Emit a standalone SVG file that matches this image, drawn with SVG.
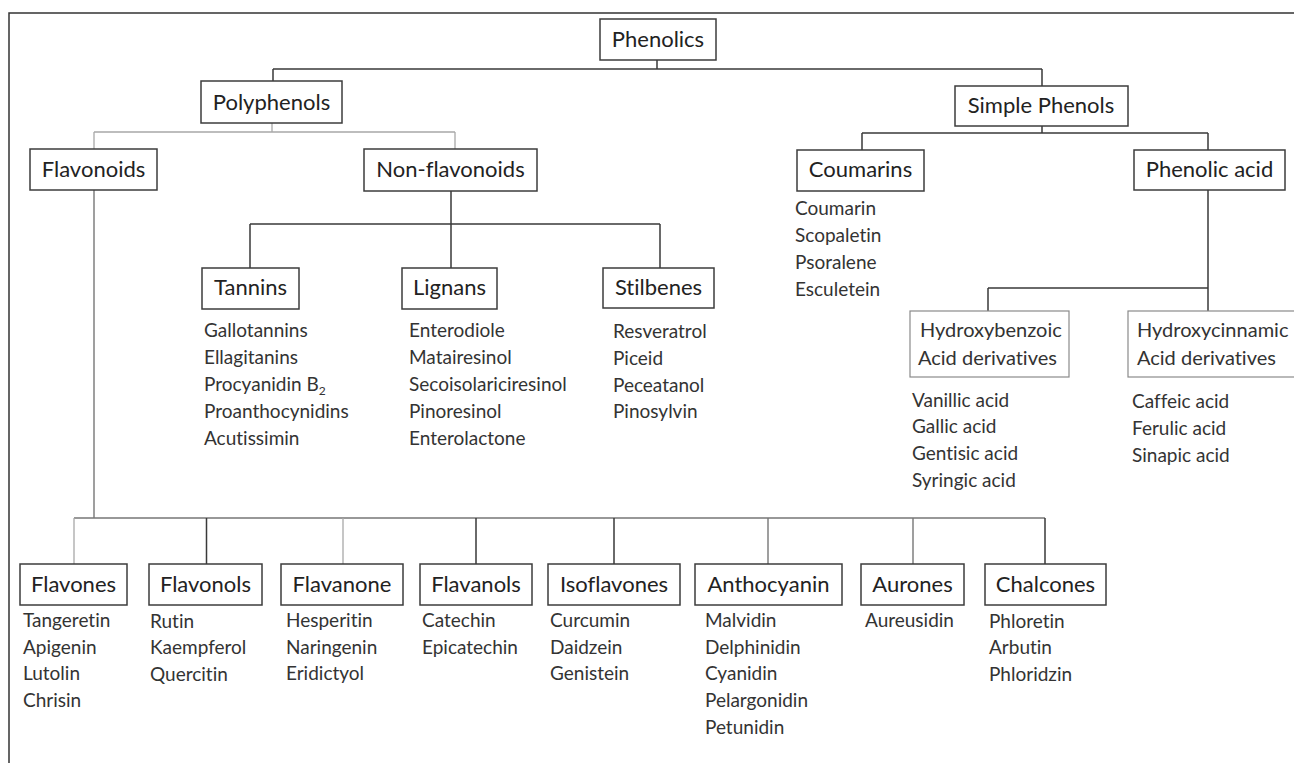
<svg xmlns="http://www.w3.org/2000/svg" width="1294" height="763" viewBox="0 0 1294 763">
<style>
.frame{fill:none;stroke:#333;stroke-width:1.5}
.box{fill:#fff;stroke:#3c3c3c;stroke-width:1.5}
.box2{fill:#fff;stroke:#8a8a8a;stroke-width:1.2}
text{font-variant-ligatures:none}
.lbl{font-family:Lato,"Open Sans",sans-serif;font-size:22px;fill:#222;text-anchor:middle}
.lbl2{font-family:Lato,"Open Sans",sans-serif;font-size:20px;fill:#333}
.item{font-family:Lato,"Open Sans",sans-serif;font-size:19px;fill:#333}
.dk{stroke:#3a3a3a;stroke-width:1.5;fill:none}
.md{stroke:#777;stroke-width:1.4;fill:none}
.lt{stroke:#a8a8a8;stroke-width:1.3;fill:none}
</style>
<rect width="1294" height="763" fill="#fff"/>
<path class="frame" d="M9,763 V13 H1294"/>
<g id="connectors">
<path class="dk" d="M657,60 V69 M273,69 H1042 M273,69 V81 M1042,69 V86"/>
<path class="lt" d="M272,123 V132 M94,132 H455 M94,132 V149 M455,132 V149"/>
<path class="dk" d="M1042,126 V133 M862,133 H1208 M862,133 V150 M1208,133 V150"/>
<path class="dk" d="M451,191 V268 M250,224 H660 M250,224 V268 M660,224 V268"/>
<path class="dk" d="M1208,190 V311 M988,288 H1208 M988,288 V311"/>
<path class="md" d="M94,190 V518 M74,518 H1045"/>
<path class="lt" d="M74,518 V564 M343,518 V564"/>
<path class="md" d="M768,518 V564 M913,518 V564"/>
<path class="dk" d="M206.5,518 V564 M476,518 V564 M614,518 V564 M1045,518 V564"/>
</g>
<g id="phenolics"><rect class="box" x="600" y="19" width="116" height="41"/><text class="lbl" x="658" y="47">Phenolics</text></g>
<g id="polyphenols"><rect class="box" x="201" y="81" width="141" height="42"/><text class="lbl" x="271.5" y="110">Polyphenols</text></g>
<g id="simple-phenols"><rect class="box" x="955" y="86" width="173" height="40"/><text class="lbl" x="1041" y="113">Simple Phenols</text></g>
<g id="flavonoids"><rect class="box" x="30" y="149" width="127" height="41"/><text class="lbl" x="93.5" y="177">Flavonoids</text></g>
<g id="non-flavonoids"><rect class="box" x="364" y="149" width="173" height="42"/><text class="lbl" x="450.5" y="177">Non-flavonoids</text></g>
<g id="coumarins"><rect class="box" x="797" y="150" width="127" height="41"/><text class="lbl" x="860.5" y="177">Coumarins</text>
<text class="item" x="795" y="215">Coumarin</text><text class="item" x="795" y="242">Scopaletin</text><text class="item" x="795" y="269">Psoralene</text><text class="item" x="795" y="296">Esculetein</text></g>
<g id="phenolic-acid"><rect class="box" x="1134" y="150" width="151" height="40"/><text class="lbl" x="1209.5" y="177">Phenolic acid</text></g>
<g id="tannins"><rect class="box" x="202" y="268" width="97" height="41"/><text class="lbl" x="250.5" y="295">Tannins</text>
<text class="item" x="204" y="337">Gallotannins</text><text class="item" x="204" y="364">Ellagitanins</text><text class="item" x="204" y="391">Procyanidin B<tspan font-size="12" dy="4">2</tspan></text><text class="item" x="204" y="418">Proanthocynidins</text><text class="item" x="204" y="445">Acutissimin</text></g>
<g id="lignans"><rect class="box" x="402" y="268" width="95" height="41"/><text class="lbl" x="449.5" y="295">Lignans</text>
<text class="item" x="409" y="337">Enterodiole</text><text class="item" x="409" y="364">Matairesinol</text><text class="item" x="409" y="391">Secoisolariciresinol</text><text class="item" x="409" y="418">Pinoresinol</text><text class="item" x="409" y="445">Enterolactone</text></g>
<g id="stilbenes"><rect class="box" x="603" y="268" width="111" height="40"/><text class="lbl" x="658.5" y="295">Stilbenes</text>
<text class="item" x="613" y="338">Resveratrol</text><text class="item" x="613" y="365">Piceid</text><text class="item" x="613" y="392">Peceatanol</text><text class="item" x="613" y="418">Pinosylvin</text></g>
<g id="hydroxybenzoic"><rect class="box2" x="910" y="311" width="159" height="66"/><text class="lbl2" x="920" y="337">Hydroxybenzoic</text><text class="lbl2" x="918" y="365">Acid derivatives</text>
<text class="item" x="912" y="407">Vanillic acid</text><text class="item" x="912" y="433">Gallic acid</text><text class="item" x="912" y="460">Gentisic acid</text><text class="item" x="912" y="487">Syringic acid</text></g>
<g id="hydroxycinnamic"><rect class="box2" x="1128" y="311" width="170" height="66"/><text class="lbl2" x="1137" y="337">Hydroxycinnamic</text><text class="lbl2" x="1137" y="365">Acid derivatives</text>
<text class="item" x="1132" y="408">Caffeic acid</text><text class="item" x="1132" y="435">Ferulic acid</text><text class="item" x="1132" y="462">Sinapic acid</text></g>
<g id="flavones"><rect class="box" x="20" y="564" width="107" height="41"/><text class="lbl" x="73.5" y="592">Flavones</text>
<text class="item" x="23" y="627">Tangeretin</text><text class="item" x="23" y="654">Apigenin</text><text class="item" x="23" y="680">Lutolin</text><text class="item" x="23" y="707">Chrisin</text></g>
<g id="flavonols"><rect class="box" x="149" y="564" width="113" height="41"/><text class="lbl" x="205.5" y="592">Flavonols</text>
<text class="item" x="150" y="628">Rutin</text><text class="item" x="150" y="654">Kaempferol</text><text class="item" x="150" y="681">Quercitin</text></g>
<g id="flavanone"><rect class="box" x="281" y="564" width="122" height="41"/><text class="lbl" x="342" y="592">Flavanone</text>
<text class="item" x="286" y="627">Hesperitin</text><text class="item" x="286" y="654">Naringenin</text><text class="item" x="286" y="680">Eridictyol</text></g>
<g id="flavanols"><rect class="box" x="420" y="564" width="112" height="41"/><text class="lbl" x="476" y="592">Flavanols</text>
<text class="item" x="422" y="627">Catechin</text><text class="item" x="422" y="654">Epicatechin</text></g>
<g id="isoflavones"><rect class="box" x="548" y="564" width="132" height="41"/><text class="lbl" x="614" y="592">Isoflavones</text>
<text class="item" x="550" y="627">Curcumin</text><text class="item" x="550" y="654">Daidzein</text><text class="item" x="550" y="680">Genistein</text></g>
<g id="anthocyanin"><rect class="box" x="695" y="564" width="147" height="41"/><text class="lbl" x="768.5" y="592">Anthocyanin</text>
<text class="item" x="705" y="627">Malvidin</text><text class="item" x="705" y="654">Delphinidin</text><text class="item" x="705" y="680">Cyanidin</text><text class="item" x="705" y="707">Pelargonidin</text><text class="item" x="705" y="734">Petunidin</text></g>
<g id="aurones"><rect class="box" x="861" y="564" width="103" height="41"/><text class="lbl" x="912.5" y="592">Aurones</text>
<text class="item" x="865" y="627">Aureusidin</text></g>
<g id="chalcones"><rect class="box" x="985" y="564" width="121" height="41"/><text class="lbl" x="1045.5" y="592">Chalcones</text>
<text class="item" x="989" y="628">Phloretin</text><text class="item" x="989" y="654">Arbutin</text><text class="item" x="989" y="681">Phloridzin</text></g>
</svg>
